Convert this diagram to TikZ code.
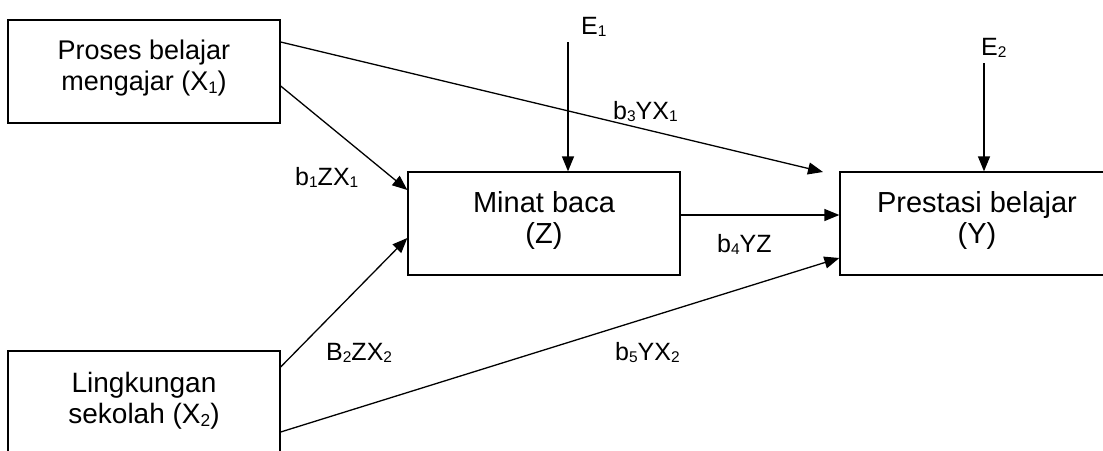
\documentclass[tikz,border=0pt]{standalone}
\usepackage{fontspec}
\setmainfont{Liberation Sans}
\usepackage{graphicx}
\usetikzlibrary{arrows.meta}
\newcommand\sbs[1]{\raisebox{-0.09em}{\scalebox{0.62}{#1}}}
\begin{document}
\begin{tikzpicture}[x=1pt,y=-1pt,
  box/.style={draw,line width=1.3pt,minimum width=272pt,minimum height=103pt,
    inner sep=0pt},
  boxtext/.style={inner sep=0pt,align=center,font=\fontsize{29}{31.5}\selectfont},
  lbl/.style={inner sep=0pt,anchor=base west,font=\fontsize{25}{28}\selectfont},
  conn/.style={line width=1.3pt,-{Triangle[length=15pt,width=12pt]}}]
\useasboundingbox (0,0) rectangle (1103,450);
\node[box] (x1) at (144,71.5) {};
\node[boxtext,font=\fontsize{27}{31}\selectfont] (x1t) at ([yshift=3pt]x1.center) {Proses belajar\\mengajar (X\sbs{1})};
\node[box] (x2) at (144,402.5) {};
\node[boxtext,font=\fontsize{28}{31.5}\selectfont] (x2t) at ([yshift=2pt]x2.center) {Lingkungan\\sekolah (X\sbs{2})};
\node[box] (z) at (544,223.5) {};
\node[boxtext] (zt) at ([yshift=3pt]z.center) {Minat baca\\(Z)};
\node[box,minimum width=274pt] (y) at (977,223.5) {};
\node[boxtext] (yt) at ([yshift=3pt]y.center) {Prestasi belajar\\(Y)};
\node[lbl] (e1) at (581,34) {E\sbs{1}};
\node[lbl] (e2) at (981,55) {E\sbs{2}};
\coordinate (e1s) at (568,42);
\coordinate (e2s) at (984,63);
\coordinate (x1y) at (823,172);
\draw[conn] (e1s) -- (e1s |- z.north);
\draw[conn] (e2s) -- (e2s |- y.north);
\draw[conn] ([yshift=29.5pt]x1.east) -- (x1y);
\draw[conn] ([yshift=-14.5pt]x1.east) -- ([yshift=33.5pt]z.west);
\draw[conn] ([yshift=35.5pt]x2.east) -- ([yshift=-14.5pt]z.west);
\draw[conn] ([yshift=-29.5pt]x2.east) -- ([yshift=-34.5pt]y.west);
\draw[conn] ([yshift=8.5pt]z.east) -- ([yshift=8.5pt]y.west);
\node[lbl] (l1) at (295,185) {b\sbs{1}ZX\sbs{1}};
\node[lbl] (l3) at (613,119) {b\sbs{3}YX\sbs{1}};
\node[lbl] (l4) at (717,252) {b\sbs{4}YZ};
\node[lbl] (l2) at (326,360) {B\sbs{2}ZX\sbs{2}};
\node[lbl] (l5) at (615,360) {b\sbs{5}YX\sbs{2}};
\end{tikzpicture}
\end{document}
